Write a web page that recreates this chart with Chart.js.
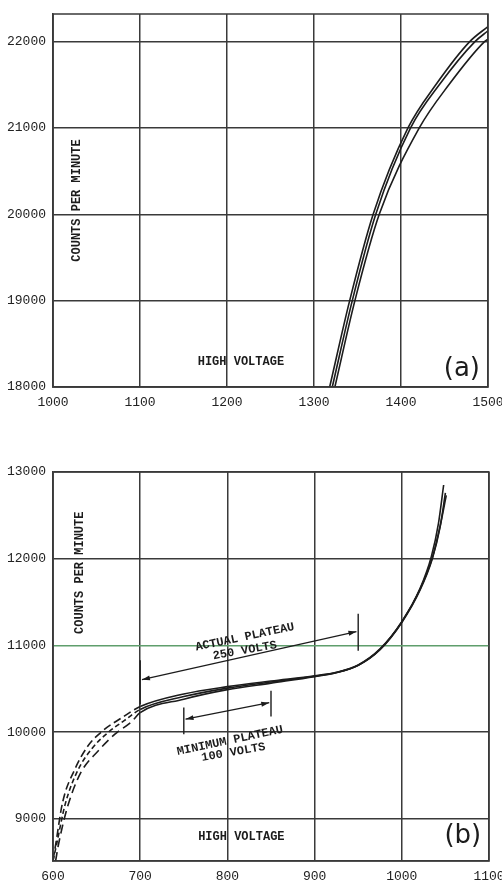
<!DOCTYPE html>
<html>
<head>
<meta charset="utf-8">
<script src="https://cdn.jsdelivr.net/npm/chart.js@4.4.1/dist/chart.umd.min.js"></script>
<style>
  body { margin: 0; background: #fff; }
  .box { position: absolute; left: 0; width: 502px; }
  #boxA { top: 0; height: 420px; }
  #boxB { top: 440px; height: 442px; }
</style>
</head>
<body>
<div class="box" id="boxA"><canvas id="chartA"></canvas></div>
<div class="box" id="boxB"><canvas id="chartB"></canvas></div>
<script>
// (a) three counter tubes, upper voltage range
const voltsA1 = [1318, 1341, 1368, 1408, 1440, 1479, 1500];
const countsA1 = [18000, 19000, 20000, 21000, 21500, 22000, 22175];
const voltsA2 = [1321, 1344, 1371, 1411, 1444, 1485, 1500];
const countsA2 = [18000, 19000, 20000, 21000, 21500, 22000, 22125];
const voltsA3 = [1324, 1347, 1375, 1421, 1455, 1496, 1500];
const countsA3 = [18000, 19000, 20000, 21000, 21500, 22000, 22030];

// (b) plateau curves
const voltsB1 = [600, 603, 611, 625, 640, 657, 678, 700, 750, 800, 850, 900, 925, 950, 975, 1000, 1021, 1034, 1042, 1048];
const countsB1 = [8520, 8700, 9190, 9570, 9840, 10015, 10160, 10295, 10440, 10525, 10590, 10650, 10690, 10775, 10960, 11275, 11660, 12030, 12405, 12850];
const voltsB2 = [600, 604, 614, 628, 645, 663, 682, 700, 750, 800, 850, 900, 925, 950, 975, 1000, 1021, 1035, 1044, 1051];
const countsB2 = [8515, 8700, 9170, 9550, 9815, 9995, 10135, 10262, 10410, 10508, 10578, 10645, 10688, 10772, 10955, 11270, 11650, 12010, 12380, 12730];
const voltsB3 = [603, 606, 617, 632, 652, 671, 690, 700, 750, 800, 850, 900, 925, 950, 975, 1000, 1021, 1035, 1044, 1050];
const countsB3 = [8514, 8690, 9150, 9535, 9785, 9977, 10120, 10225, 10380, 10490, 10565, 10640, 10685, 10770, 10950, 11265, 11640, 12000, 12370, 12760];

const ticksA_x = [1000, 1100, 1200, 1300, 1400, 1500];
const ticksA_y = [18000, 19000, 20000, 21000, 22000];
const ticksB_x = [600, 700, 800, 900, 1000, 1100];
const ticksB_y = [9000, 10000, 11000, 12000, 13000];

const actualPlateau = [700, 950];
const minimumPlateau = [750, 850];

const INK = '#1c1c1c';
const GRID = '#3a3a3a';
const MONO = '"Liberation Mono", "DejaVu Sans Mono", monospace';

function pts(xs, ys) {
  return xs.map((v, i) => ({ x: v, y: ys[i] }));
}

const paperPlugin = {
  id: 'paper',
  afterDatasetsDraw(chart, args, opts) {
    const { ctx, chartArea: a, scales: { x, y } } = chart;
    ctx.save();
    ctx.strokeStyle = GRID;
    ctx.lineWidth = 1.5;
    ctx.strokeRect(a.left, a.top, a.right - a.left, a.bottom - a.top);

    ctx.strokeStyle = INK;
    ctx.fillStyle = INK;
    ctx.lineWidth = 1.4;
    (opts.bars || []).forEach(b => {
      ctx.beginPath();
      ctx.moveTo(x.getPixelForValue(b.x), y.getPixelForValue(b.y0));
      ctx.lineTo(x.getPixelForValue(b.x), y.getPixelForValue(b.y1));
      ctx.stroke();
    });
    (opts.arrows || []).forEach(ar => {
      const x0 = x.getPixelForValue(ar.x0), y0 = y.getPixelForValue(ar.y0);
      const x1 = x.getPixelForValue(ar.x1), y1 = y.getPixelForValue(ar.y1);
      ctx.lineWidth = 1.2;
      ctx.beginPath();
      ctx.moveTo(x0, y0);
      ctx.lineTo(x1, y1);
      ctx.stroke();
      const ang = Math.atan2(y1 - y0, x1 - x0);
      [[x1, y1, ang], [x0, y0, ang + Math.PI]].forEach(([hx, hy, t]) => {
        ctx.beginPath();
        ctx.moveTo(hx, hy);
        ctx.lineTo(hx - 8 * Math.cos(t) + 2.5 * Math.sin(t), hy - 8 * Math.sin(t) - 2.5 * Math.cos(t));
        ctx.lineTo(hx - 8 * Math.cos(t) - 2.5 * Math.sin(t), hy - 8 * Math.sin(t) + 2.5 * Math.cos(t));
        ctx.closePath();
        ctx.fill();
      });
    });
    (opts.texts || []).forEach(t => {
      ctx.save();
      ctx.translate(x.getPixelForValue(t.x), y.getPixelForValue(t.y));
      ctx.rotate((t.rot || 0) * Math.PI / 180);
      ctx.font = t.font;
      ctx.fillStyle = t.color || INK;
      ctx.textAlign = 'center';
      ctx.textBaseline = 'middle';
      ctx.fillText(t.text, 0, 0);
      ctx.restore();
    });
    ctx.restore();
  }
};

function lineSet(data, dash) {
  return {
    data: data,
    borderColor: INK,
    borderWidth: 1.6,
    pointRadius: 0,
    fill: false,
    cubicInterpolationMode: 'monotone',
    segment: dash ? { borderDash: c => (c.p0.parsed.x < 699 ? dash : undefined) } : undefined
  };
}

function makeChart(id, cfg) {
  return new Chart(document.getElementById(id), {
    type: 'line',
    data: { datasets: cfg.datasets },
    plugins: [paperPlugin],
    options: {
      responsive: true,
      maintainAspectRatio: false,
      animation: false,
      layout: { padding: cfg.padding },
      plugins: {
        legend: { display: false },
        tooltip: { enabled: false },
        paper: cfg.paper
      },
      scales: {
        x: {
          type: 'linear',
          min: cfg.xTicks[0],
          max: cfg.xTicks[cfg.xTicks.length - 1],
          afterBuildTicks: s => { s.ticks = cfg.xTicks.map(v => ({ value: v })); },
          afterFit: s => { s.height = cfg.xHeight; s.paddingLeft = 0; s.paddingRight = 0; },
          ticks: {
            color: '#222',
            padding: 9,
            maxRotation: 0,
            font: { family: MONO, size: 13, lineHeight: 1 },
            callback: v => String(v)
          },
          grid: { color: GRID, lineWidth: 1.5, drawTicks: false },
          border: { color: GRID, width: 1.5 }
        },
        y: {
          min: cfg.yMin,
          max: cfg.yMax,
          afterBuildTicks: s => { s.ticks = cfg.yTicks.map(v => ({ value: v })); },
          afterFit: s => { s.width = 53; s.paddingTop = 0; s.paddingBottom = 0; },
          ticks: {
            color: '#222',
            padding: 7,
            font: { family: MONO, size: 13 },
            callback: v => String(v)
          },
          grid: {
            color: c => (c.tick && c.tick.value === cfg.greenLine ? '#5f9e6c' : GRID),
            lineWidth: 1.5,
            drawTicks: false
          },
          border: { color: GRID, width: 1.5 }
        }
      }
    }
  });
}

const labelFont = 'bold 12px ' + MONO;
const tagFont = '26px "DejaVu Sans", sans-serif';

makeChart('chartA', {
  datasets: [
    lineSet(pts(voltsA1, countsA1)),
    lineSet(pts(voltsA2, countsA2)),
    lineSet(pts(voltsA3, countsA3))
  ],
  padding: { top: 14, right: 14, left: 0, bottom: 0 },
  xTicks: ticksA_x,
  yTicks: ticksA_y,
  yMin: 18000,
  yMax: 22320,
  xHeight: 33,
  greenLine: null,
  paper: {
    texts: [
      { text: 'COUNTS PER MINUTE', x: 1028, y: 20160, rot: -90, font: labelFont },
      { text: 'HIGH VOLTAGE', x: 1216, y: 18290, font: labelFont },
      { text: '(a)', x: 1470, y: 18200, font: tagFont }
    ]
  }
});

makeChart('chartB', {
  datasets: [
    lineSet(pts(voltsB1, countsB1), [8, 4]),
    lineSet(pts(voltsB2, countsB2), [5, 3]),
    lineSet(pts(voltsB3, countsB3), [9, 5])
  ],
  padding: { top: 32, right: 13, left: 0, bottom: 0 },
  xTicks: ticksB_x,
  yTicks: ticksB_y,
  yMin: 8514,
  yMax: 13000,
  xHeight: 21,
  greenLine: 11000,
  paper: {
    bars: [
      { x: actualPlateau[0], y0: 10830, y1: 10320 },
      { x: actualPlateau[1], y0: 11365, y1: 10940 },
      { x: minimumPlateau[0], y0: 10285, y1: 9975 },
      { x: minimumPlateau[1], y0: 10477, y1: 10180 }
    ],
    arrows: [
      { x0: actualPlateau[0] + 2, y0: 10605, x1: actualPlateau[1] - 2, y1: 11160 },
      { x0: minimumPlateau[0] + 2, y0: 10150, x1: minimumPlateau[1] - 2, y1: 10340 }
    ],
    texts: [
      { text: 'COUNTS PER MINUTE', x: 631, y: 11838, rot: -90, font: labelFont },
      { text: 'ACTUAL PLATEAU', x: 820, y: 11095, rot: -12, font: labelFont },
      { text: '250 VOLTS', x: 820, y: 10940, rot: -10, font: labelFont },
      { text: 'MINIMUM PLATEAU', x: 803, y: 9900, rot: -12, font: labelFont },
      { text: '100 VOLTS', x: 807, y: 9765, rot: -10, font: labelFont },
      { text: 'HIGH VOLTAGE', x: 816, y: 8786, font: labelFont },
      { text: '(b)', x: 1070, y: 8798, font: tagFont }
    ]
  }
});
</script>
</body>
</html>
